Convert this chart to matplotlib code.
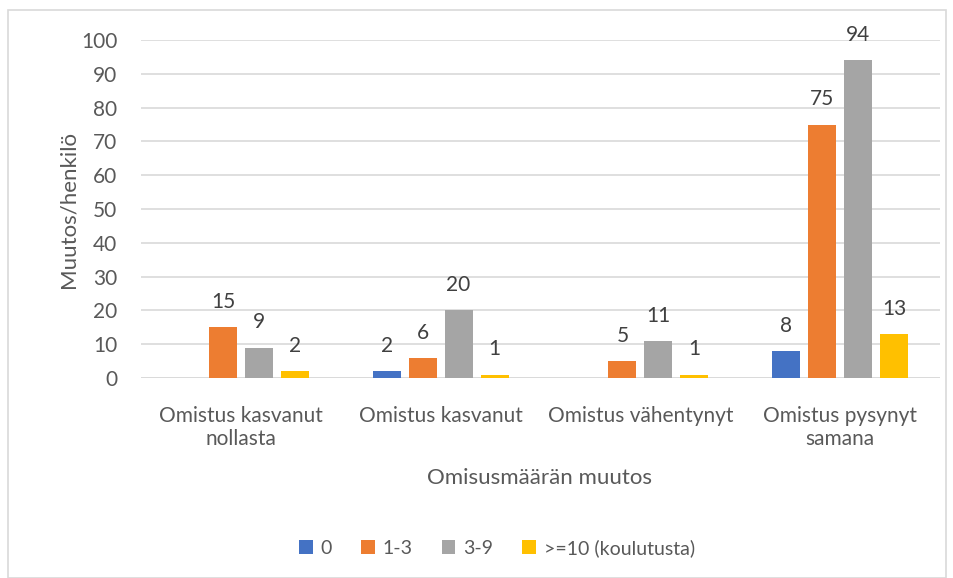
import numpy as np
import matplotlib.pyplot as plt
from matplotlib.patches import Rectangle

categories = ["Omistus kasvanut\nnollasta", "Omistus kasvanut", "Omistus vähentynyt", "Omistus pysynyt\nsamana"]
series_names = ["0", "1-3", "3-9", ">=10 (koulutusta)"]
s0 = [None, 2, None, 8]
s13 = [15, 6, 5, 75]
s39 = [9, 20, 11, 94]
s10 = [2, 1, 1, 13]
colors = ["#4472C4", "#ED7D31", "#A5A5A5", "#FFC000"]

plt.rcParams['font.family'] = ['Lato', 'DejaVu Sans']
txt = "#595959"

fig = plt.figure(figsize=(9.54, 5.78), dpi=100)
ax = fig.add_axes([141/954, 1-378/578, (940-141)/954, (378-40)/578])

x = np.arange(len(categories))
w = 0.14
step = 0.18
handles = []
for i, (vals, c) in enumerate(zip([s0, s13, s39, s10], colors)):
    pos = x + (i - 1.5) * step
    h = [v if v is not None else 0 for v in vals]
    b = ax.bar(pos, h, w, color=c, zorder=3, label=series_names[i])
    handles.append(b)
    for p, v in zip(pos, vals):
        if v is None:
            continue
        ax.text(p, v + 4.5, str(v), ha='center', va='bottom', fontsize=15, color="#404040")

ax.set_xlim(-0.5, 3.5)
ax.set_ylim(0, 100)
ax.set_yticks(range(0, 101, 10))
ax.yaxis.grid(True, color="#D9D9D9", linewidth=1.2, zorder=0)
for s in ax.spines.values():
    s.set_visible(False)
ax.axhline(0, color="#D9D9D9", linewidth=1.2, zorder=2)
ax.tick_params(axis='both', length=0, labelsize=15, colors=txt)
ax.tick_params(axis='x', pad=20)
ax.tick_params(axis='y', pad=17)
ax.set_xticks(x)
ax.set_xticklabels(categories, linespacing=1.2)
ax.set_ylabel("Muutos/henkilö", fontsize=16, color=txt, labelpad=2)
fig.text(540/954, 1-478/578, "Omisusmäärän muutos", ha='center', va='center', fontsize=16, color=txt)

fig.legend(handles=handles, loc='center', bbox_to_anchor=(497/954, 1-548/578), ncol=4,
           frameon=False, fontsize=14, labelcolor=txt, handlelength=0.7, handleheight=0.7,
           handletextpad=0.4, columnspacing=1.5)

fig.patches.append(Rectangle((8/954, 0), (946-8)/954, 1-10/578, transform=fig.transFigure,
                             fill=False, edgecolor="#D9D9D9", linewidth=1.2))

fig.savefig("out.png", dpi=100)
